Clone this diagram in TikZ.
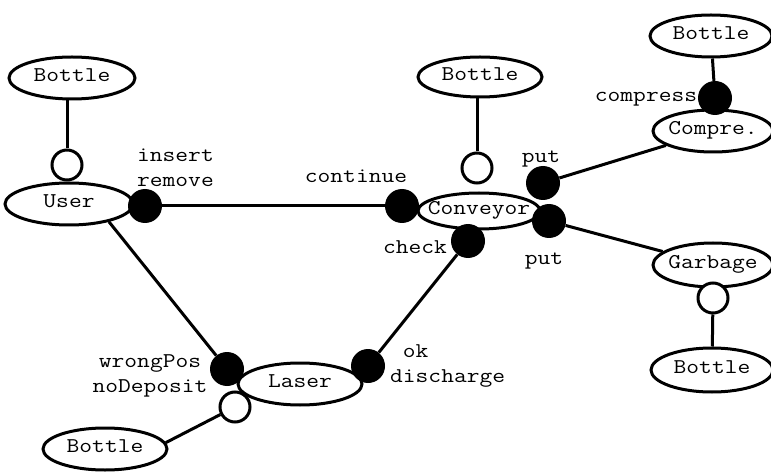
\documentclass[tikz,border=0pt]{standalone}
\usepackage{fontspec}
\usetikzlibrary{shapes.geometric}
% typewriter text, widened to a Courier-like pitch
\newcommand\cw[1]{\scalebox{1.18}[1]{#1}}
\begin{document}
\begin{tikzpicture}[x=1pt,y=-1pt,
  every node/.style={font=\ttfamily\fontsize{21}{25}\selectfont},
  every label/.style={inner sep=0pt, text height=0.62em, text depth=0pt},
  ent/.style={ellipse, draw, line width=3pt, fill=white, inner sep=0pt},
  port/.style={circle, draw, line width=3pt, fill=white, minimum size=30pt, inner sep=0pt},
  act/.style={circle, fill=black, minimum size=34pt, inner sep=0pt},
  lbl/.style={inner sep=0pt, anchor=base},
  link/.style={line width=3pt}]
\fill[white] (0,0) rectangle (771,473);
\useasboundingbox (0,0) rectangle (771,473);

% components
\node[ent, minimum width=126pt, minimum height=42pt, label=center:{\cw{Bottle}}] (btl) at (72,78) {};
\node[ent, minimum width=128pt, minimum height=42pt, label=center:{\cw{User}}] (user) at (69,204) {};
\node[ent, minimum width=124pt, minimum height=40pt, label=center:{\cw{Bottle}}] (btm) at (480,77) {};
\node[ent, minimum width=122pt, minimum height=36pt, label=center:{\cw{Conveyor}}] (conv) at (479,211) {};
\node[ent, minimum width=122pt, minimum height=42pt, label=center:{\cw{Bottle}}] (btr) at (711,36) {};
\node[ent, minimum width=120pt, minimum height=42pt, label=center:{\cw{Compre.}}] (comp) at (713,131) {};
\node[ent, minimum width=120pt, minimum height=44pt, label=center:{\cw{Garbage}}] (garb) at (713,265) {};
\node[ent, minimum width=122pt, minimum height=44pt, label=center:{\cw{Bottle}}] (bbr) at (712,370) {};
\node[ent, minimum width=124pt, minimum height=42pt, label=center:{\cw{Laser}}] (laser) at (300,384) {};
\node[ent, minimum width=124pt, minimum height=42pt, label=center:{\cw{Bottle}}] (bbl) at (105,449) {};

% provided ports
\node[port] (pu) at (67,165) {};
\node[port] (pc) at (477,168) {};
\node[port] (pg) at (713,298) {};
\node[port] (pl) at (235,407) {};

% action ports
\node[act] (ins) at (145,206) {};
\node[act] (cont) at (402,206) {};
\node[act] (put1) at (543,183) {};
\node[act] (put2) at (549,221) {};
\node[act] (chk) at (468,241) {};
\node[act] (okd) at (368,366) {};
\node[act] (wrp) at (227,369) {};
\node[act] (cmp) at (715,98) {};

% connectors
\draw[link] (pu) -- (pu |- btl.south);
\draw[link] (pc) -- (pc |- btm.south);
\draw[link] (pg) -- (bbr);
\draw[link] (pl) -- (bbl.6);
\draw[link] (btr) -- (cmp);
\draw[link] (ins) -- (cont);
\draw[link] (chk) -- (okd);
\draw[link] (user.-24) -- (wrp);
\draw[link] (put1) -- (comp);
\draw[link] (put2) -- (garb);

% action labels
\node[inner sep=0pt, align=left, anchor=west] (l1) at (137,168) {\cw{insert}\\\cw{remove}};
\node[lbl] (l2) at (356,183) {\cw{continue}};
\node[lbl] (l3) at (541,163) {\cw{put}};
\node[lbl] (l4) at (544,264) {\cw{put}};
\node[lbl] (l5) at (415,253) {\cw{check}};
\node[lbl] (l6) at (646,102) {\cw{compress}};
\node[inner sep=0pt, align=center] (l7) at (150,375.5) {\cw{wrongPos}\\\cw{noDeposit}};
\node[inner sep=0pt, align=left, anchor=west] (l8) at (390,366) {\cw{\phantom{d}ok}\\\cw{discharge}};
\end{tikzpicture}
\end{document}
